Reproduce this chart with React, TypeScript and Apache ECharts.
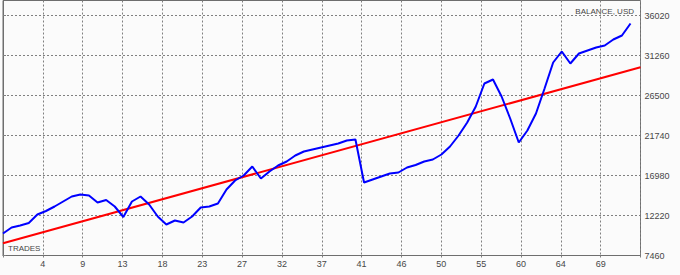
import React, { useEffect, useRef } from "react";
import * as echarts from "echarts";

// Balance per trade (USD), trade index 0..73
const balance: number[] = [
  10078, 10792, 11030, 11328, 12339, 12756, 13291, 13886, 14481, 14719,
  14600, 13767, 14065, 13291, 12042, 13886, 14481, 13529, 12101, 11149,
  11625, 11387, 12101, 13172, 13291, 13648, 15314, 16385, 16980, 18051,
  16623, 17456, 18170, 18646, 19360, 19836, 20074, 20312, 20550, 20788,
  21145, 21264, 16147, 16504, 16861, 17218, 17337, 17932, 18230, 18646,
  18884, 19479, 20431, 21740, 23287, 25191, 27928, 28404, 26381, 23763,
  20907, 22335, 24358, 27333, 30427, 31736, 30308, 31498, 31855, 32212,
  32450, 33164, 33640, 35068,
];

// Trend line end points: [trade, balance]
const trendStart: [number, number] = [0, 8920];
const trendEnd: [number, number] = [74.16, 29860];

// Axis tick values
const yTickValues: number[] = [7460, 12220, 16980, 21740, 26500, 31260, 36020];
const xStep = 4.635;
const xTickCount = 16;
const yMin = 7460;
const yMax = 37805;

const labelColor = "#474747";
const gridColor = "#808080";
const fontFamily = "'Liberation Sans', 'DejaVu Sans', sans-serif";

export default function App() {
  const ref = useRef<HTMLDivElement>(null);

  useEffect(() => {
    if (!ref.current) return;
    const chart = echarts.init(ref.current, undefined, { renderer: "svg" });
    const xMax = xStep * xTickCount;
    const xTicks = Array.from({ length: xTickCount + 1 }, (_, i) => i * xStep);
    chart.setOption({
      animation: false,
      backgroundColor: "#fbfbfb",
      grid: {
        left: 0.5,
        top: 0.5,
        right: 39.5,
        bottom: 19.5,
        show: true,
        borderColor: "#6e6e6e",
        borderWidth: 1,
        backgroundColor: "transparent",
      },
      graphic: [
        {
          type: "text",
          right: 46,
          top: 7,
          style: {
            text: "BALANCE, USD",
            fill: labelColor,
            font: `8px ${fontFamily}`,
          },
        },
        {
          type: "text",
          left: 8,
          top: 244,
          style: {
            text: "TRADES",
            fill: labelColor,
            font: `8px ${fontFamily}`,
          },
        },
      ],
      xAxis: {
        type: "value",
        min: 0,
        max: xMax,
        axisLine: { show: true, lineStyle: { color: "#6e6e6e", width: 1 } },
        axisTick: { show: true, length: 2, customValues: xTicks, lineStyle: { color: gridColor } },
        axisLabel: {
          customValues: xTicks,
          color: labelColor,
          fontSize: 9,
          fontFamily,
          margin: 4,
          formatter: (v: number) =>
            v <= 0.001 || v >= xMax - 0.001 ? "" : String(Math.floor(v + 1e-6)),
        },
        splitLine: {
          show: true,
          lineStyle: { color: gridColor, type: [2, 2], width: 1 },
        },
      },
      yAxis: {
        type: "value",
        position: "right",
        min: yMin,
        max: yMax,
        axisLine: { show: true, lineStyle: { color: "#6e6e6e", width: 1 } },
        axisTick: { show: true, length: 3, customValues: yTickValues, lineStyle: { color: gridColor } },
        axisLabel: {
          customValues: yTickValues,
          color: labelColor,
          fontSize: 9,
          fontFamily,
          margin: 4,
          formatter: (v: number) => String(v),
        },
        splitLine: {
          show: true,
          lineStyle: { color: gridColor, type: [2, 2], width: 1 },
        },
      },
      series: [
        {
          type: "line",
          data: [trendStart, trendEnd],
          showSymbol: false,
          symbol: "none",
          lineStyle: { color: "#ff0000", width: 2 },
          z: 3,
        },
        {
          type: "line",
          data: balance.map((v, i) => [i, v]),
          showSymbol: false,
          symbol: "none",
          lineStyle: { color: "#0000ff", width: 2 },
          z: 4,
        },
      ],
    });
    return () => chart.dispose();
  }, []);

  return (
    <div
      ref={ref}
      style={{ position: "fixed", left: 0, top: 0, width: 680, height: 275 }}
    />
  );
}
